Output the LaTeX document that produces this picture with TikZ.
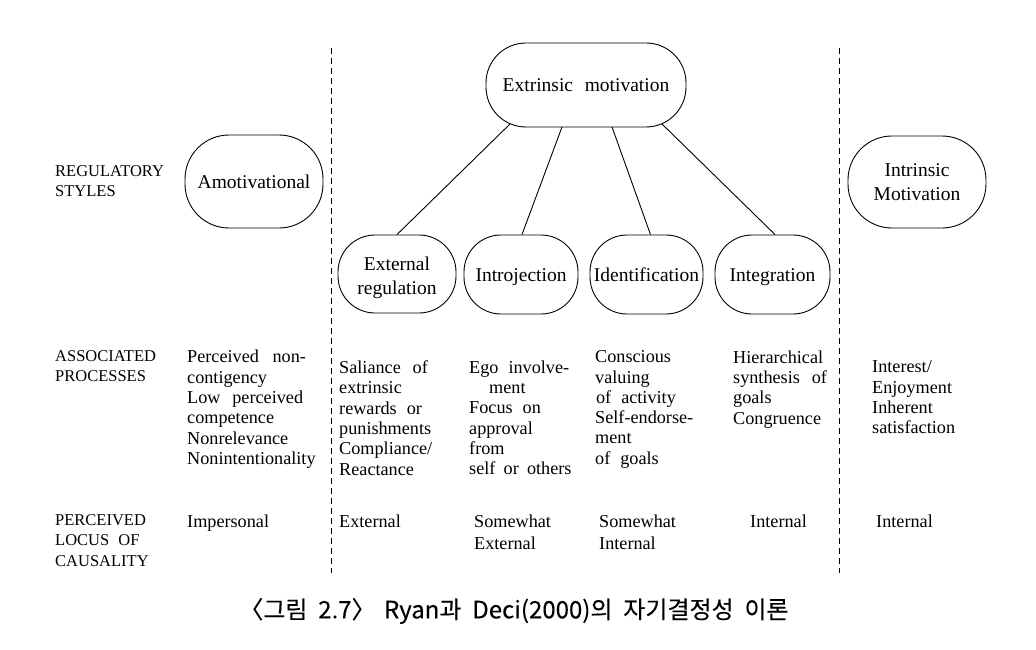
\documentclass[tikz,border=0pt]{standalone}
\usepackage{fontspec}
\setmainfont{Liberation Serif}
\newfontfamily\cjk[FakeStretch=1.0,FakeBold=0.2]{Noto Sans CJK KR}
\usetikzlibrary{calc}
\tikzset{
  stadium/.style={draw, line width=0.9pt, align=center, inner sep=0pt,
    font=\fontsize{19.5}{24}\selectfont},
  oneline/.style={text height=13pt, text depth=0pt},
  body/.style={anchor=north west, align=left, inner sep=0pt,
    font=\fontsize{18.2}{20.3}\selectfont},
  lab/.style={anchor=north west, align=left, inner sep=0pt,
    font=\fontsize{16.5}{20.3}\selectfont},
  link/.style={line width=0.9pt},
  divider/.style={line width=0.8pt, dash pattern=on 6pt off 4pt}
}
\begin{document}
\begin{tikzpicture}[x=1pt,y=-1pt]
\useasboundingbox (0,0) rectangle (1036,650);
% dashed dividers
\coordinate (d1t) at (331,48); \coordinate (d1b) at (331,573);
\coordinate (d2t) at (839,48); \coordinate (d2b) at (839,573);
\draw[divider] (d1t) -- (d1b);
\draw[divider] (d2t) -- (d2b);
% nodes
\node[stadium, oneline, minimum width=138pt, minimum height=93pt, rounded corners=44pt] (amot) at (254,181.5) {Amotivational};
\node[stadium, oneline, minimum width=200pt, minimum height=84pt, rounded corners=40pt] (ext) at (586,85) {Extrinsic\hspace{0.6em}motivation};
\node[stadium, minimum width=138pt, minimum height=92pt, rounded corners=44pt] (intr) at (917,182) {Intrinsic\\Motivation};
\node[stadium, text height=41pt, text depth=0pt, minimum width=118pt, minimum height=78pt, rounded corners=37pt] (extreg) at (397,274) {External\\regulation};
\node[stadium, oneline, minimum width=114pt, minimum height=79pt, rounded corners=37pt] (intro) at (521,274.5) {Introjection};
\node[stadium, oneline, minimum width=113pt, minimum height=79pt, rounded corners=37pt] (ident) at (646.5,274.5) {Identification};
\node[stadium, oneline, minimum width=115pt, minimum height=79pt, rounded corners=37pt] (integ) at (772.5,274.5) {Integration};
% links
\draw[link] ([shift={(-76,39)}]ext.center) -- (extreg.north);
\draw[link] ([shift={(-24,42)}]ext.center) -- ([xshift=1pt]intro.north);
\draw[link] ([shift={(26,42)}]ext.center) -- ([xshift=4pt]ident.north);
\draw[link] ([shift={(76,39)}]ext.center) -- ([xshift=2.5pt]integ.north);
% row labels
\node[lab] (l1) at (55,165.5) {REGULATORY\\STYLES};
\node[lab] (l2) at (55,350.5) {ASSOCIATED\\PROCESSES};
\node[lab] (l3) at (55,514.5) {PERCEIVED\\LOCUS\hspace{0.3em} OF\\CAUSALITY};
% associated processes
\node[body] (p1) at (187,350) {Perceived\hspace{0.5em} non-\\contigency\\Low\hspace{0.4em} perceived\\competence\\Nonrelevance\\Nonintentionality};
\node[body] (p2) at (339,360.5) {Saliance\hspace{0.4em} of\\extrinsic\\rewards\hspace{0.3em} or\\punishments\\Compliance/\\Reactance};
\node[body] (p3) at (469,360.5) {Ego\hspace{0.3em} involve-\\\hspace{1.1em}ment\\Focus\hspace{0.3em} on\\approval\\from\\self\hspace{0.2em} or\hspace{0.2em} others};
\node[body] (p4) at (595,350.5) {Conscious\\valuing\\\hspace{0.05em}of\hspace{0.3em} activity\\Self-endorse-\\ment\\of\hspace{0.3em} goals};
\node[body] (p5) at (733,350.5) {Hierarchical\\synthesis\hspace{0.4em} of\\goals\\Congruence};
\node[body] (p6) at (872,360.5) {Interest/\\Enjoyment\\Inherent\\satisfaction};
% perceived locus
\node[body] (c1) at (187,514.5) {Impersonal};
\node[body] (c2) at (339,514.5) {External};
\node[body, font=\fontsize{18.2}{22.5}\selectfont] (c3) at (474,514.5) {Somewhat\\External};
\node[body, font=\fontsize{18.2}{22.5}\selectfont] (c4) at (599,514.5) {Somewhat\\Internal};
\node[body] (c5) at (750,514.5) {Internal};
\node[body] (c6) at (876,514.5) {Internal};
% caption
\node[inner sep=0pt, font=\cjk\fontsize{24}{28}\selectfont] (cap) at (514,611) {〈그림\hspace{0.45em}2.7〉\hspace{0.35em}Ryan과\hspace{0.45em}Deci(2000)의\hspace{0.45em}자기결정성\hspace{0.45em}이론};
\end{tikzpicture}
\end{document}
